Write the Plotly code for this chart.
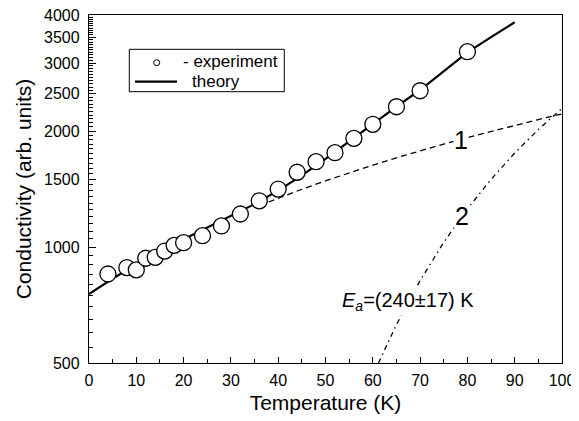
import plotly.graph_objects as go
import math

# ---- data ----
temp_exp = [4, 8, 10, 12, 14, 16, 18, 20, 24, 28, 32, 36, 40, 44, 48, 52, 56, 60, 65, 70, 80]
cond_exp = [851, 884, 872, 935, 940, 976, 1010, 1026, 1070, 1134, 1218, 1318, 1414,
            1563, 1665, 1757, 1914, 2082, 2312, 2544, 3212]

temp_theory = [0, 5, 10, 15, 20, 25, 30, 35, 40, 45, 50, 55, 60, 65, 70, 75, 80, 85, 90]
cond_theory = [755, 828, 901, 974, 1047, 1122, 1201, 1292, 1401, 1534, 1693, 1879, 2090,
               2315, 2555, 2860, 3200, 3505, 3830]

temp_c1 = [36, 40, 45, 50, 55, 60, 65, 70, 75, 80, 85, 90, 95, 100]
cond_c1 = [1281, 1339, 1412, 1485, 1558, 1631, 1704, 1777, 1850, 1923, 1996, 2069, 2142, 2215]

temp_c2 = [61.2, 65, 70, 75, 80, 85, 90, 95, 100]
cond_c2 = [500, 629, 818, 1028, 1256, 1498, 1753, 2018, 2289]

x_ticks = [0, 10, 20, 30, 40, 50, 60, 70, 80, 90, 100]
y_ticks = [500, 1000, 1500, 2000, 2500, 3000, 3500, 4000]
y_minor = [v for v in range(550, 4000, 50) if v % 500 != 0]

legend_labels = ["- experiment", "theory"]

FONT = "Arial, Liberation Sans, sans-serif"

fig = go.Figure()

fig.add_trace(go.Scatter(x=temp_c1, y=cond_c1, mode="lines", name="1", showlegend=False,
                         line=dict(color="black", width=1.3, dash="6px,4px")))
fig.add_trace(go.Scatter(x=temp_c2, y=cond_c2, mode="lines", name="2", showlegend=False,
                         line=dict(color="black", width=1.3, dash="5px,4px,1.5px,4px")))
fig.add_trace(go.Scatter(x=temp_theory, y=cond_theory, mode="lines", name="theory",
                         showlegend=False, line=dict(color="black", width=2.2)))
fig.add_trace(go.Scatter(x=temp_exp, y=cond_exp, mode="markers", name="experiment",
                         showlegend=False,
                         marker=dict(symbol="circle", size=16, color="white",
                                     line=dict(color="black", width=1.3))))

# ---- legend box (layout decoration in paper coordinates) ----
fig.add_shape(type="rect", xref="paper", yref="paper", x0=0.0852, x1=0.4129,
              y0=0.7796, y1=0.9014, line=dict(color="black", width=1), fillcolor="white",
              layer="above")
fig.add_shape(type="circle", xref="paper", yref="paper", x0=0.1368, x1=0.1495,
              y0=0.8543, y1=0.8716, line=dict(color="black", width=1), fillcolor="white",
              layer="above")
fig.add_shape(type="line", xref="paper", yref="paper", x0=0.0973, x1=0.1860,
              y0=0.8083, y1=0.8083, line=dict(color="black", width=2.2), layer="above")
fig.add_annotation(x=0.1950, y=0.8650, xref="paper", yref="paper", text=legend_labels[0],
                   xanchor="left", yanchor="middle", showarrow=False,
                   font=dict(family=FONT, size=17, color="black"))
fig.add_annotation(x=0.2130, y=0.8083, xref="paper", yref="paper", text=legend_labels[1],
                   xanchor="left", yanchor="middle", showarrow=False,
                   font=dict(family=FONT, size=17, color="black"))

fig.add_annotation(x=78.6, y=math.log10(1900), xref="x", yref="y", text="1",
                   showarrow=False, font=dict(family=FONT, size=25, color="black"),
                   bgcolor="white", borderpad=0)
fig.add_annotation(x=78.9, y=math.log10(1204), xref="x", yref="y", text="2",
                   showarrow=False, font=dict(family=FONT, size=25, color="black"),
                   bgcolor="white", borderpad=0)
fig.add_annotation(x=67.4, y=math.log10(720), xref="x", yref="y",
                   text="<i>E</i><sub><i>a</i></sub>=(240±17) K",
                   showarrow=False, font=dict(family=FONT, size=20, color="black"),
                   bgcolor="white", borderpad=1)

fig.update_xaxes(range=[0, 100], tickvals=x_ticks, ticks="inside", ticklen=6, tickwidth=1.2,
                 tickcolor="black", showline=True, linecolor="black", linewidth=1.3,
                 mirror=True, showgrid=False, zeroline=False, ticklabelstandoff=3,
                 ticklabeloverflow="allow",
                 minor=dict(dtick=5, tick0=0, ticks="inside", ticklen=3.5, tickwidth=1.2,
                            tickcolor="black", showgrid=False),
                 tickfont=dict(family=FONT, size=16, color="black"),
                 title=dict(text="Temperature (K)", font=dict(family=FONT, size=21, color="black"),
                            standoff=6))
fig.update_yaxes(type="log", range=[math.log10(500), math.log10(4000)], tickmode="array",
                 tickvals=y_ticks, ticktext=[str(v) for v in y_ticks], ticks="inside",
                 ticklen=7, tickwidth=1.2,
                 tickcolor="black", showline=True, linecolor="black", linewidth=1.3,
                 mirror=True, showgrid=False, zeroline=False, ticklabelstandoff=5,
                 ticklabeloverflow="allow",
                 minor=dict(tickmode="array", tickvals=y_minor, ticks="inside", ticklen=3.7,
                            tickwidth=1, tickcolor="black", showgrid=False),
                 tickfont=dict(family=FONT, size=16, color="black"),
                 title=dict(text="Conductivity (arb. units)",
                            font=dict(family=FONT, size=21, color="black"), standoff=6))

# the page adds an 8px body margin, so the figure is drawn 8px smaller and shifted
fig.update_layout(width=571, height=413, plot_bgcolor="white", paper_bgcolor="white",
                  margin=dict(l=81, r=17, t=7, b=58, autoexpand=False),
                  font=dict(family=FONT, color="black"), showlegend=False)

fig.write_html("out.html")
